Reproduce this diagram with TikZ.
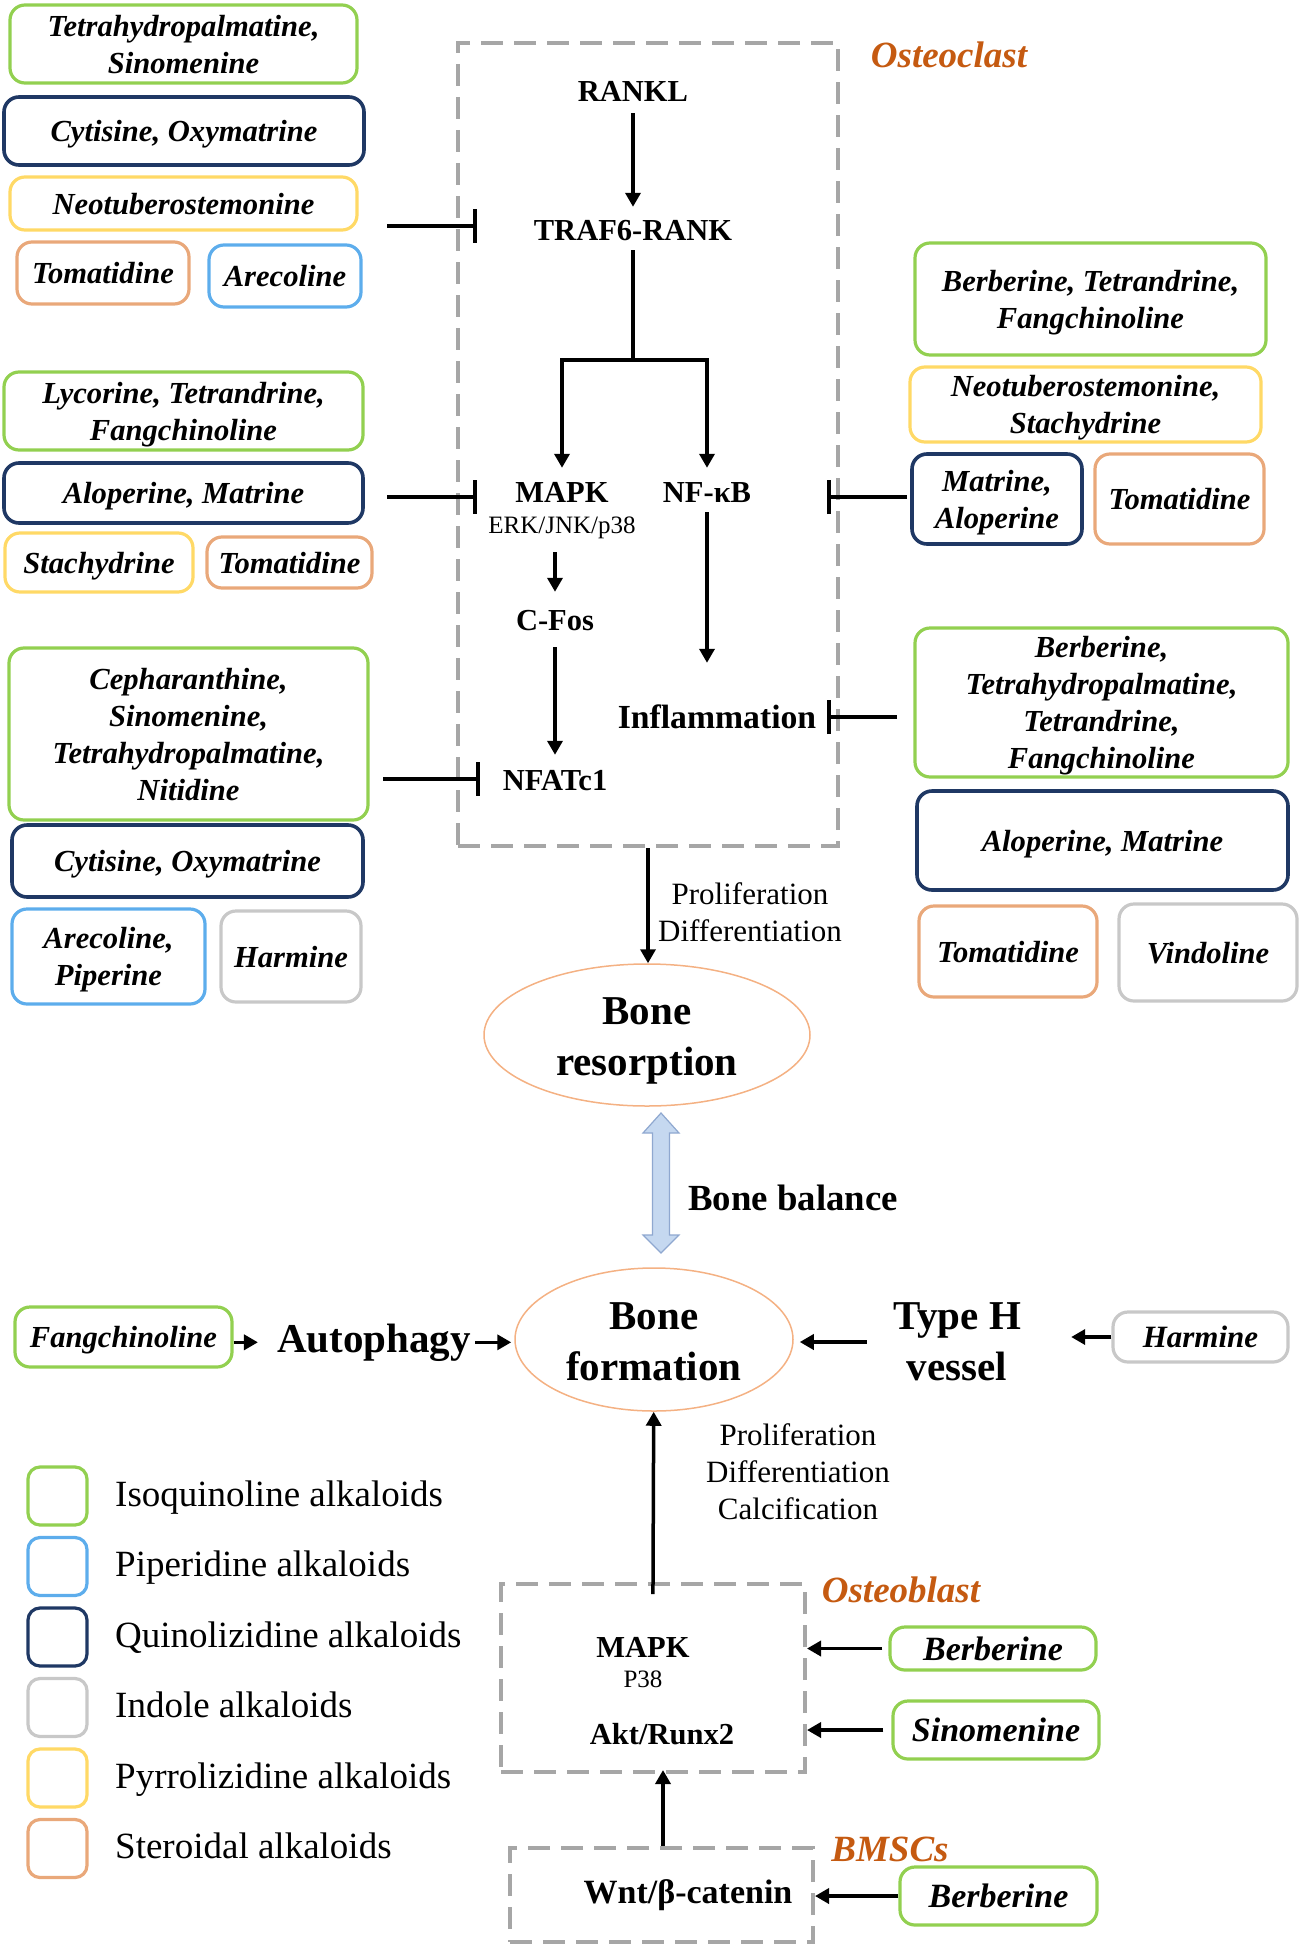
\documentclass[tikz,border=0pt]{standalone}
\usepackage{fontspec}
\setmainfont{Liberation Serif}
\usetikzlibrary{arrows.meta, shapes.geometric}

\definecolor{isoC}{HTML}{92D050}
\definecolor{pipC}{HTML}{5DADEC}
\definecolor{quiC}{HTML}{1F3864}
\definecolor{indC}{HTML}{C8C8C8}
\definecolor{pyrC}{HTML}{FFD966}
\definecolor{steC}{HTML}{E9A87A}
\definecolor{cellGray}{HTML}{A6A6A6}
\definecolor{cellBrown}{HTML}{C55A11}
\definecolor{ovalC}{HTML}{F4B183}
\definecolor{balFill}{HTML}{C5D8F0}
\definecolor{balEdge}{HTML}{8FA8D0}

\newcommand{\drugfont}{\fontsize{30.6}{37}\selectfont\bfseries\itshape}
\newcommand{\bigdrugfont}{\fontsize{34}{40}\selectfont\bfseries\itshape}
\newcommand{\harfont}{\fontsize{31}{37}\selectfont\bfseries\itshape}
\newcommand{\molfont}{\fontsize{30.5}{36}\selectfont\bfseries}
\newcommand{\subfont}{\fontsize{25}{30}\selectfont}
\newcommand{\inflfont}{\fontsize{33.7}{40}\selectfont\bfseries}
\newcommand{\notefont}{\fontsize{31}{37}\selectfont}
\newcommand{\bonefont}{\fontsize{41}{51}\selectfont\bfseries}
\newcommand{\balfont}{\fontsize{36.8}{44}\selectfont\bfseries}
\newcommand{\cellfont}{\fontsize{37}{44}\selectfont\bfseries\itshape}
\newcommand{\legfont}{\fontsize{37}{44}\selectfont}
\newcommand{\wntfont}{\fontsize{34}{40}\selectfont\bfseries}

\tikzset{
  drug/.style={draw, rounded corners=15pt, line width=3.2pt, align=center, inner sep=0pt, text depth=0pt, font=\drugfont},
  iso/.style={drug, draw=isoC},
  pip/.style={drug, draw=pipC},
  qui/.style={drug, draw=quiC, line width=3.6pt},
  ind/.style={drug, draw=indC},
  pyr/.style={drug, draw=pyrC},
  ste/.style={drug, draw=steC},
  sz/.style 2 args={minimum width=#1, minimum height=#2},
  mol/.style={font=\molfont, inner sep=0pt, text height=21pt, text depth=7pt, anchor=base},
  sub/.style={font=\subfont, inner sep=0pt, text height=17pt, text depth=6pt, anchor=base},
  infl/.style={font=\inflfont, inner sep=0pt, text height=23pt, text depth=8pt, anchor=base},
  note/.style={font=\notefont, align=center, inner sep=0pt},
  bone/.style={font=\bonefont, align=center, inner sep=0pt},
  legend/.style={font=\legfont, inner sep=0pt},
  flow/.style={line width=3.5pt, -{Triangle[length=14pt,width=15pt]}},
  inhibit/.style={line width=4pt, -{Bar[width=34pt]}},
  cellbox/.style={draw=cellGray, line width=4pt, dash pattern=on 22pt off 11pt, inner sep=0pt},
  celltitle/.style={font=\cellfont, text=cellBrown, inner sep=0pt, anchor=base},
  oval/.style={ellipse, draw=ovalC, line width=1.5pt, inner sep=0pt},
}

\begin{document}
\begin{tikzpicture}[x=1pt, y=-1pt]
\useasboundingbox (0,0) rectangle (1301,1945);

% cells
\node[cellbox, sz={380pt}{803pt}] (ocBox) at (648,444.5) {};
\node[cellbox, sz={304pt}{188pt}] (obBox) at (653,1678) {};
\node[cellbox, sz={303pt}{94pt}] (mscBox) at (661.5,1895) {};
\node[celltitle] (ocTitle) at (949,68) {Osteoclast};
\node[celltitle] (obTitle) at (901,1602) {Osteoblast};
\node[celltitle] (mscTitle) at (890,1861) {BMSCs};

% osteoclast pathway
\node[mol] (rankl) at (633,102) {RANKL};
\node[mol] (traf) at (633,240) {TRAF6-RANK};
\node[mol] (mapk) at (562,502) {MAPK};
\node[sub] (erk) at (562,533) {ERK/JNK/p38};
\node[mol] (nfkb) at (707,502) {NF-κB};
\node[mol] (cfos) at (555,630) {C-Fos};
\node[mol] (nfat) at (555,790) {NFATc1};
\node[infl] (infl) at (717,728) {Inflammation};
\coordinate (split) at (633,360);

\draw[flow, shorten <=4pt, shorten >=12pt] (rankl) -- (traf);
\draw[line width=4pt, shorten <=3pt] (traf) -- (split);
\draw[flow, shorten >=13pt] (split) -| (mapk);
\draw[flow, shorten >=13pt] (split) -| (nfkb);
\draw[flow, shorten <=13pt, shorten >=17pt] (erk.south -| cfos) -- (cfos);
\draw[flow, shorten <=10pt, shorten >=14pt] (cfos) -- (nfat);
\draw[flow, shorten <=3pt, shorten >=42pt] (nfkb.south) -- (nfkb.south |- infl.north);

% inhibitors
\coordinate (inTrafS) at (387,226); \coordinate (inTrafE) at (477,226);
\coordinate (inMapkS) at (387,497); \coordinate (inMapkE) at (477,497);
\coordinate (inNfatS) at (383,779); \coordinate (inNfatE) at (480,779);
\coordinate (inNfkbS) at (907,497); \coordinate (inNfkbE) at (827,497);
\coordinate (inInflS) at (897,717); \coordinate (inInflE) at (827,717);
\draw[inhibit] (inTrafS) -- (inTrafE);
\draw[inhibit] (inMapkS) -- (inMapkE);
\draw[inhibit] (inNfatS) -- (inNfatE);
\draw[inhibit] (inNfkbS) -- (inNfkbE);
\draw[inhibit] (inInflS) -- (inInflE);

% left drugs
\node[iso, sz={347pt}{78pt}] (thpSino) at (183.5,44) {Tetrahydropalmatine,\\Sinomenine};
\node[qui, sz={360pt}{68pt}] (cytOxyA) at (184,131) {Cytisine, Oxymatrine};
\node[pyr, sz={347pt}{53pt}] (neoA) at (183.5,203.5) {Neotuberostemonine};
\node[ste, sz={172pt}{62pt}] (tomA) at (103,273) {Tomatidine};
\node[pip, sz={152pt}{62pt}] (areA) at (285,276) {Arecoline};

\node[iso, sz={359pt}{78pt}] (lycTet) at (183.5,411) {Lycorine, Tetrandrine,\\Fangchinoline};
\node[qui, sz={359pt}{60pt}] (aloMatA) at (183.5,493) {Aloperine, Matrine};
\node[pyr, sz={188pt}{59pt}] (stachA) at (99,562.5) {Stachydrine};
\node[ste, sz={165pt}{51pt}] (tomB) at (289.5,562.5) {Tomatidine};

\node[iso, sz={359pt}{172pt}] (cephGrp) at (188.5,734) {Cepharanthine,\\Sinomenine,\\Tetrahydropalmatine,\\Nitidine};
\node[qui, sz={351pt}{72pt}] (cytOxyB) at (187.5,861) {Cytisine, Oxymatrine};
\node[pip, sz={193pt}{95pt}] (arePip) at (108.5,956.5) {Arecoline,\\Piperine};
\node[ind, sz={140pt}{91pt}] (harA) at (291,956.5) {Harmine};

% right drugs
\node[iso, sz={351pt}{112pt}] (berTet) at (1090.5,299) {Berberine, Tetrandrine,\\Fangchinoline};
\node[pyr, sz={351pt}{75pt}] (neoStach) at (1085.5,404.5) {Neotuberostemonine,\\Stachydrine};
\node[qui, sz={170pt}{90pt}] (matAlo) at (997,499) {Matrine,\\Aloperine};
\node[ste, sz={169pt}{90pt}] (tomC) at (1179.5,499) {Tomatidine};
\node[iso, sz={373pt}{149pt}] (berGrp) at (1101.5,702.5) {Berberine,\\Tetrahydropalmatine,\\Tetrandrine,\\Fangchinoline};
\node[qui, sz={371pt}{99pt}] (aloMatB) at (1102.5,840.5) {Aloperine, Matrine};
\node[ste, sz={178pt}{91pt}] (tomD) at (1008,951.5) {Tomatidine};
\node[ind, sz={178pt}{97pt}] (vind) at (1208,952.5) {Vindoline};

% bone resorption and formation
\node[note] (noteA) at (750,912) {Proliferation\\Differentiation};
\node[oval, sz={326pt}{142pt}] (bres) at (647,1035) {};
\node[bone] (bresText) at (647,1041) {Bone\\resorption};
\draw[flow] (ocBox.south) -- (ocBox.south |- bres.north);

\begin{scope}[shift={(661,1183)}]
\draw[fill=balFill, draw=balEdge, line width=1.2pt] (0,-70) -- (18,-50) -- (8.5,-50) -- (8.5,52) -- (18,52) -- (0,70) -- (-18,52) -- (-8.5,52) -- (-8.5,-50) -- (-18,-50) -- cycle;
\end{scope}
\node[font=\balfont, inner sep=0pt, anchor=base west] (bal) at (688,1210) {Bone balance};

\node[oval, sz={278pt}{143pt}] (bform) at (654,1339.5) {};
\node[bone] (bformText) at (654,1342) {Bone\\formation};
\node[bone] (typeh) at (957,1342) {Type H\\vessel};
\node[bone, anchor=base] (auto) at (374,1352) {Autophagy};
\node[iso, sz={217pt}{60pt}] (fangA) at (123.5,1337) {Fangchinoline};
\node[ind, sz={175pt}{50pt}, font=\harfont] (harB) at (1200.5,1337) {Harmine};

\draw[flow, shorten >=19pt] (fangA.east |- auto) -- (auto);
\draw[flow, shorten <=4pt, shorten >=3pt] (auto) -- (auto -| bform.west);
\draw[flow, shorten <=26pt, shorten >=6pt] (typeh) -- (typeh -| bform.east);
\draw[flow, shorten >=50pt] (harB) -- (harB -| typeh.east);

% osteoblast and BMSCs
\node[note] (noteB) at (798,1471.5) {Proliferation\\Differentiation\\Calcification};
\node[mol] (mapkB) at (643,1657) {MAPK};
\node[sub] (p38) at (643,1687) {P38};
\node[mol] (akt) at (662,1744) {Akt/Runx2};
\node[font=\wntfont, inner sep=0pt, anchor=base] (wnt) at (688,1903) {Wnt/β-catenin};
\node[iso, sz={206pt}{43pt}, font=\bigdrugfont] (berOb) at (993,1648.5) {Berberine};
\node[iso, sz={206pt}{58pt}, font=\bigdrugfont] (sinoOb) at (996,1730) {Sinomenine};
\node[iso, sz={197pt}{58pt}, font=\bigdrugfont] (berMsc) at (998.5,1896) {Berberine};

\draw[flow, shorten <=-12pt] (obBox.north) -- (bform);
\draw[flow, shorten <=6pt] (berOb) -- (berOb -| obBox.east);
\draw[flow, shorten <=8pt] (sinoOb) -- (sinoOb -| obBox.east);
\draw[flow, shorten >=-4pt] ([xshift=1.5pt]mscBox.north) -- ([xshift=1.5pt]mscBox.north |- obBox.south);
\draw[flow] (berMsc) -- (berMsc -| mscBox.east);

% legend
\foreach \col/\txt [count=\i from 0] in {isoC/Isoquinoline alkaloids, pipC/Piperidine alkaloids, quiC/Quinolizidine alkaloids, indC/Indole alkaloids, pyrC/Pyrrolizidine alkaloids, steC/Steroidal alkaloids}{
  \node[drug, draw=\col, sz={59pt}{58pt}, rounded corners=12pt] (key\i) at (57.5,{1496+70.5*\i}) {};
  \node[legend, anchor=base west] (keyText\i) at (115,{1506+70.5*\i}) {\txt};
}
\end{tikzpicture}
\end{document}
